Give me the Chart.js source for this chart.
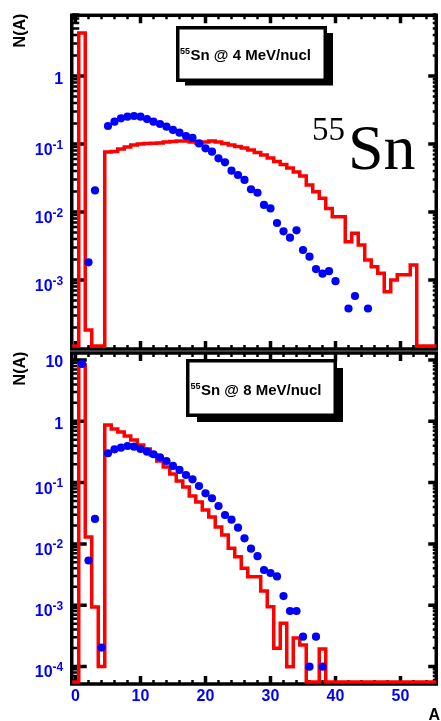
<!DOCTYPE html>
<html>
<head>
<meta charset="utf-8">
<script src="https://cdn.jsdelivr.net/npm/chart.js@4.4.1/dist/chart.umd.min.js"></script>
<style>
  html, body { margin: 0; padding: 0; background: #fff; }
  #wrap { position: relative; width: 441px; height: 721px; }
  canvas { position: absolute; left: 0; top: 0; }
</style>
</head>
<body>
<div id="wrap">
  <canvas id="topChart" width="441" height="721"></canvas>
  <canvas id="botChart" width="441" height="721"></canvas>
</div>
<script>
// mass number A, one bin per integer (0..55); null = empty bin (drawn on the floor)
const binA = Array.from({ length: 56 }, (_, i) => i);

// 55Sn @ 4 MeV/nucl
const topRed = [null, 4.3, 1.84e-4, null, null, 0.0763, 0.0776, 0.0844, 0.0903, 0.0967,
  0.100, 0.1017, 0.1023, 0.1035, 0.107, 0.1088, 0.1107, 0.1107, 0.107, 0.1035,
  0.107, 0.1107, 0.107, 0.1017, 0.0967, 0.0919, 0.0873, 0.0816, 0.075, 0.0689,
  0.0622, 0.0553, 0.050, 0.0444, 0.0388, 0.0338, 0.0249, 0.0199, 0.0159, 0.0113,
  0.00853, 0.00853, 0.00366, 0.00486, 0.00327, 0.00197, 0.00157, 0.00126, 0.000673, 0.001,
  0.00119, 0.00119, 0.00166, null, null, null];
const topBlueA = [2, 3, 5, 6, 7, 8, 9, 10, 11, 12, 13, 14, 15, 16, 17, 18, 19, 20, 21, 22,
  23, 24, 25, 26, 27, 28, 29, 30, 31, 32, 33, 34, 35, 36, 37, 38, 39, 40, 42, 43, 45];
const topBlueV = [0.00182, 0.0208, 0.184, 0.213, 0.239, 0.252, 0.258, 0.252, 0.233, 0.213,
  0.197, 0.180, 0.161, 0.147, 0.131, 0.123, 0.102, 0.0865, 0.0771, 0.0616,
  0.0538, 0.0405, 0.035, 0.0296, 0.0216, 0.0192, 0.0127, 0.0113, 0.00689, 0.0052,
  0.00419, 0.00538, 0.00276, 0.0022, 0.00145, 0.00124, 0.00135, 0.00096, 0.000381, 0.000582,
  0.000381];

// 55Sn @ 8 MeV/nucl
const botRed = [null, 8.3, 0.013, 9.3e-4, 1.0e-4, 0.87, 0.749, 0.668, 0.575, 0.495,
  0.41, 0.353, 0.282, 0.225, 0.18, 0.138, 0.106, 0.0847, 0.0604, 0.0482,
  0.0357, 0.0275, 0.0189, 0.014, 0.00848, 0.00618, 0.004, 0.00292, 0.00292, 0.0017,
  0.000946, 1.98e-4, 5.07e-4, 9.9e-5, 2.92e-4, 2.24e-4, null, null, 1.93e-4, null,
  null, null, null, null, null, null, null, null, null, null,
  null, null, null, null, null, null];
const botBlueA = [1, 2, 3, 4, 5, 6, 7, 8, 9, 10, 11, 12, 13, 14, 15, 16, 17, 18, 19, 20,
  21, 22, 23, 24, 25, 26, 27, 28, 29, 30, 31, 32, 33, 34, 35, 36, 37, 38];
const botBlueV = [8.6, 0.00536, 0.0255, 2.03e-4, 0.301, 0.349, 0.371, 0.395, 0.385, 0.353,
  0.319, 0.29, 0.259, 0.225, 0.187, 0.161, 0.133, 0.113, 0.088, 0.0669,
  0.0555, 0.0415, 0.0296, 0.0248, 0.0184, 0.0123, 0.00835, 0.0063, 0.00375, 0.00335,
  0.00294, 0.00141, 0.000804, 0.000804, 0.000306, 9.93e-5, 0.000306, 9.93e-5];

const xTickLabels = [0, 10, 20, 30, 40, 50];
const topYLabels = [1, 0.1, 0.01, 0.001];
const botYLabels = [10, 1, 0.1, 0.01, 0.001, 0.0001];

const RED = '#ff0000';
const BLUE = '#0000ff';
const SANS = "'Liberation Sans', Arial, Helvetica, sans-serif";
const SERIF = "'Liberation Serif', 'Times New Roman', serif";

// histogram outline: one point per left bin edge, stepped
function histPoints(vals, floor) {
  const pts = binA.map((a, i) => ({ x: a - 0.5, y: vals[i] === null ? floor : vals[i] }));
  const last = vals[vals.length - 1];
  pts.push({ x: binA[binA.length - 1] + 0.5, y: last === null ? floor : last });
  return pts;
}

function drawTicks(chart, o) {
  const ctx = chart.ctx, a = chart.chartArea;
  const xs = chart.scales.x, ys = chart.scales.y;
  const L = a.left - 0.5, R = a.right, T = a.top + o.topOff, B = a.bottom + o.botOff;
  ctx.save();
  ctx.strokeStyle = '#000';
  ctx.lineWidth = 3.5;
  ctx.strokeRect(L, T, R - L, B - T);
  // x ticks, every 2, major every 10
  for (let v = 0; v <= xs.max; v += 2) {
    const px = xs.getPixelForValue(v);
    const major = v % 10 === 0;
    const len = major ? 8 : 4;
    ctx.lineWidth = major ? 3.5 : 2.5;
    ctx.beginPath();
    ctx.moveTo(px, B); ctx.lineTo(px, B - len);
    ctx.moveTo(px, T); ctx.lineTo(px, T + len);
    ctx.stroke();
  }
  // y ticks (log): decades major, 2..9 minor
  const e0 = Math.floor(Math.log10(ys.min)), e1 = Math.ceil(Math.log10(ys.max));
  for (let e = e0; e <= e1; e++) {
    for (let m = 1; m <= 9; m++) {
      const v = m * Math.pow(10, e);
      if (v < ys.min || v > ys.max) continue;
      const py = ys.getPixelForValue(v);
      const major = m === 1;
      ctx.lineWidth = major ? 3.5 : 2.5;
      ctx.beginPath();
      ctx.moveTo(L, py); ctx.lineTo(L + (major ? 15 : 7.5), py);
      ctx.moveTo(R, py); ctx.lineTo(R - (major ? 8 : 3.5), py);
      ctx.stroke();
    }
  }
  ctx.restore();
}

function drawLabels(chart, o) {
  const ctx = chart.ctx, a = chart.chartArea;
  const xs = chart.scales.x, ys = chart.scales.y;
  ctx.save();
  // y labels
  ctx.fillStyle = BLUE;
  ctx.textAlign = 'right';
  ctx.textBaseline = 'alphabetic';
  const xr = a.left - 9;
  o.yLabels.forEach(v => {
    const py = ys.getPixelForValue(v);
    const e = Math.round(Math.log10(v));
    if (e === 0 || e === 1) {
      ctx.font = 'bold 16px ' + SANS;
      ctx.fillText(e === 0 ? '1' : '10', xr, py + 7.5);
    } else {
      const sup = String(e);
      ctx.font = 'bold 12px ' + SANS;
      const w = ctx.measureText(sup).width;
      ctx.fillText(sup, xr, py + 4.5);
      ctx.font = 'bold 16px ' + SANS;
      ctx.fillText('10', xr - w, py + 11);
    }
  });
  // x labels
  if (o.xLabels) {
    ctx.textAlign = 'center';
    ctx.font = 'bold 16px ' + SANS;
    o.xLabels.forEach(v => {
      ctx.fillText(String(v), xs.getPixelForValue(v), a.bottom + 19);
    });
    ctx.fillStyle = '#000';
    ctx.textAlign = 'right';
    ctx.fillText('A', 440, 720);
  }
  // N(A)
  ctx.fillStyle = '#000';
  ctx.save();
  ctx.translate(18.5 + 6, a.top + 16);
  ctx.rotate(-Math.PI / 2);
  ctx.textAlign = 'center';
  ctx.font = 'bold 16px ' + SANS;
  ctx.fillText('N(A)', 0, 0);
  ctx.restore();
  // title box with shadow
  const b = o.box;
  ctx.fillStyle = '#000';
  ctx.fillRect(b.x + b.sx, b.y + b.sy, b.w - b.sx + b.sr, b.h - b.sy + b.sb);
  ctx.fillRect(b.x, b.y, b.w, b.h);
  ctx.fillStyle = '#fff';
  ctx.fillRect(b.x + 3.5, b.y + 3.5, b.w - 7, b.h - 7);
  ctx.fillStyle = '#000';
  ctx.textAlign = 'left';
  ctx.font = 'bold 9px ' + SANS;
  ctx.fillText('55', b.tx, b.ty - 6);
  const sw = ctx.measureText('55').width;
  ctx.font = 'bold 15px ' + SANS;
  ctx.fillText(b.text, b.tx + sw + 0.5, b.ty);
  // big nucleus label
  if (o.big) {
    ctx.font = '33px ' + SERIF;
    ctx.fillText('55', 312, 140);
    ctx.font = '64px ' + SERIF;
    ctx.fillText('Sn', 348, 168.5);
  }
  ctx.restore();
}

const rootPlugin = {
  id: 'rootStyle',
  beforeDatasetsDraw(chart, args, o) { drawTicks(chart, o); },
  afterDraw(chart, args, o) { drawLabels(chart, o); }
};

function makePanel(id, red, blueA, blueV, yMin, yMax, pad, extra) {
  return new Chart(document.getElementById(id), {
    type: 'line',
    data: {
      datasets: [
        {
          data: blueA.map((a, i) => ({ x: a, y: blueV[i] })),
          showLine: false,
          pointRadius: 4.1,
          pointBorderWidth: 0,
          pointBackgroundColor: BLUE,
          backgroundColor: BLUE,
          clip: false
        },
        {
          data: histPoints(red, yMin),
          stepped: true,
          borderColor: RED,
          borderWidth: 3.5,
          pointRadius: 0,
          fill: false,
          clip: false
        }
      ]
    },
    options: {
      responsive: false,
      animation: false,
      events: [],
      layout: { padding: pad },
      scales: {
        x: { type: 'linear', min: -0.5, max: 55.5, bounds: 'data', display: false },
        y: { type: 'logarithmic', min: yMin, max: yMax, bounds: 'data', display: false }
      },
      plugins: {
        legend: { display: false },
        tooltip: { enabled: false },
        rootStyle: extra
      }
    },
    plugins: [rootPlugin]
  });
}

makePanel('topChart', topRed, topBlueA, topBlueV, 1.07e-4, 8.03,
  { left: 72.25, right: 4.75, top: 14.5, bottom: 375 },
  {
    topOff: 0.8, botOff: 3, yLabels: topYLabels, xLabels: null, big: true,
    box: { x: 176, y: 26, w: 151, h: 56, sx: 9, sy: 7, sr: 6, sb: 3.5, tx: 180, ty: 59.5,
      text: 'Sn @ 4 MeV/nucl' }
  });

makePanel('botChart', botRed, botBlueA, botBlueV, 5.58e-5, 13.25,
  { left: 72.25, right: 4.75, top: 352.5, bottom: 39 },
  {
    topOff: 0.5, botOff: 2, yLabels: botYLabels, xLabels: xTickLabels, big: false,
    box: { x: 186, y: 359, w: 151, h: 58, sx: 11, sy: 9, sr: 6, sb: 5, tx: 190.5, ty: 394.5,
      text: 'Sn @ 8 MeV/nucl' }
  });
</script>
</body>
</html>
